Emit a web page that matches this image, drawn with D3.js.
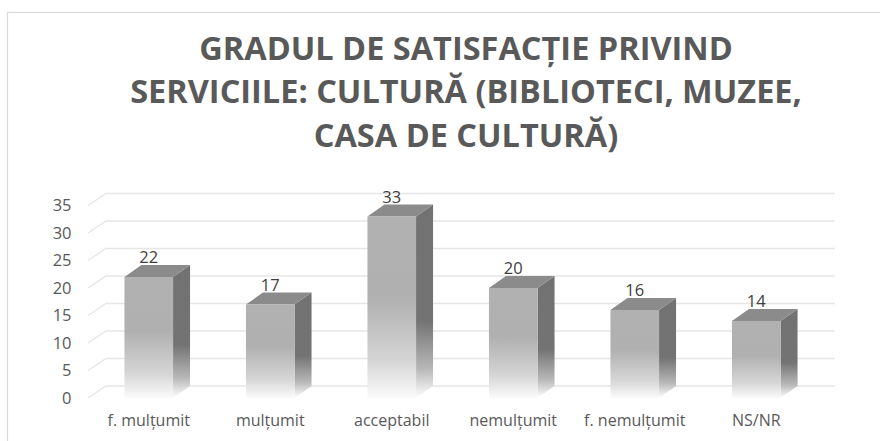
<!DOCTYPE html>
<html>
<head>
<meta charset="utf-8">
<script src="https://cdn.jsdelivr.net/npm/d3@7"></script>
<style>
  html, body { margin: 0; padding: 0; background: #fff; }
  svg { display: block; font-family: 'Open Sans', sans-serif; }
</style>
</head>
<body>
<div id="chart"><svg width="880" height="441"></svg></div>
<script>
// data
const categories = ['f. mulțumit', 'mulțumit', 'acceptabil', 'nemulțumit', 'f. nemulțumit', 'NS/NR'];
const values = [22, 17, 33, 20, 16, 14];
const yTicks = [0, 5, 10, 15, 20, 25, 30, 35];
const titleLines = ['GRADUL DE SATISFACȚIE PRIVIND', 'SERVICIILE: CULTURĂ (BIBLIOTECI, MUZEE,', 'CASA DE CULTURĂ)'];

const svg = d3.select('#chart svg');

// depth of the 3d effect
const DX = 17;
const DY = -12;

// frame
svg.append('rect')
  .attr('x', 7.5)
  .attr('y', 12.5)
  .attr('width', 900)
  .attr('height', 500)
  .style('fill', 'none')
  .style('stroke', '#d9d9d9')
  .style('stroke-width', 1.2);

// title
svg.append('g')
  .selectAll('text')
  .data(titleLines)
  .join('text')
  .text(d => d)
  .attr('x', 466)
  .attr('y', (d, i) => 60 + i * 43.4)
  .style('text-anchor', 'middle')
  .style('font-weight', '700')
  .style('font-size', '32.5px')
  .style('fill', '#595959');

// scales
const scaleY = d3.scaleLinear()
  .domain([0, 35])
  .range([398, 205.5]);

const scaleX = d3.scaleBand()
  .domain(categories)
  .range([88, 817])
  .paddingInner(0.6)
  .paddingOuter(0.3);

// gradients
const defs = svg.append('defs');
const frontGrad = defs.append('linearGradient')
  .attr('id', 'front')
  .attr('x1', 0).attr('y1', 0).attr('x2', 0).attr('y2', 1);
frontGrad.selectAll('stop')
  .data([[0, '#b1b1b1'], [0.45, '#b0b0b0'], [0.8, '#d6d6d6'], [1, '#fbfbfb']])
  .join('stop')
  .attr('offset', d => d[0])
  .attr('stop-color', d => d[1]);

const sideGrad = defs.append('linearGradient')
  .attr('id', 'side')
  .attr('x1', 0).attr('y1', 0).attr('x2', 0).attr('y2', 1);
sideGrad.selectAll('stop')
  .data([[0, '#727272'], [0.6, '#737373'], [0.85, '#b8b8b8'], [1, '#ffffff']])
  .join('stop')
  .attr('offset', d => d[0])
  .attr('stop-color', d => d[1]);

// gridlines (floor edge + back wall)
const gridG = svg.append('g')
  .style('fill', 'none')
  .style('stroke', '#e6e6e6')
  .style('stroke-width', 1.3);

gridG.selectAll('path')
  .data(yTicks)
  .join('path')
  .attr('d', d => {
    const y = scaleY(d);
    return `M${scaleX.range()[0]},${y}L${scaleX.range()[0] + DX + 1},${y + DY}L${scaleX.range()[1] + DX + 1},${y + DY}`;
  });

// y tick labels
svg.append('g')
  .selectAll('text')
  .data(yTicks)
  .join('text')
  .text(d => d)
  .attr('x', 71.5)
  .attr('y', d => scaleY(d) + 5.5)
  .style('text-anchor', 'end')
  .style('font-size', '16.5px')
  .style('fill', '#595959');

// bars
const barsG = svg.append('g');
const bars = barsG.selectAll('g')
  .data(values)
  .join('g');

// side face
bars.append('path')
  .attr('d', (d, i) => {
    const x1 = scaleX(categories[i]) + scaleX.bandwidth();
    const yt = scaleY(d);
    const yb = scaleY(0);
    return `M${x1},${yt}L${x1 + DX},${yt + DY}L${x1 + DX},${yb + DY}L${x1},${yb}Z`;
  })
  .style('fill', 'url(#side)');

// top face
bars.append('path')
  .attr('d', (d, i) => {
    const x0 = scaleX(categories[i]);
    const x1 = x0 + scaleX.bandwidth();
    const yt = scaleY(d);
    return `M${x0},${yt}L${x0 + DX},${yt + DY}L${x1 + DX},${yt + DY}L${x1},${yt}Z`;
  })
  .style('fill', '#8b8b8b');

// front face
bars.append('rect')
  .attr('x', (d, i) => scaleX(categories[i]))
  .attr('y', d => scaleY(d))
  .attr('width', scaleX.bandwidth())
  .attr('height', d => scaleY(0) - scaleY(d))
  .style('fill', 'url(#front)');

// value labels
svg.append('g')
  .selectAll('text')
  .data(values)
  .join('text')
  .text(d => d)
  .attr('x', (d, i) => scaleX(categories[i]) + scaleX.bandwidth() / 2)
  .attr('y', d => scaleY(d) - 14)
  .style('text-anchor', 'middle')
  .style('font-size', '16.5px')
  .style('fill', '#404040');

// category labels
svg.append('g')
  .selectAll('text')
  .data(categories)
  .join('text')
  .text(d => d)
  .attr('x', d => scaleX(d) + scaleX.bandwidth() / 2)
  .attr('y', 426)
  .style('text-anchor', 'middle')
  .style('font-size', '16px')
  .style('fill', '#595959');
</script>
</body>
</html>
